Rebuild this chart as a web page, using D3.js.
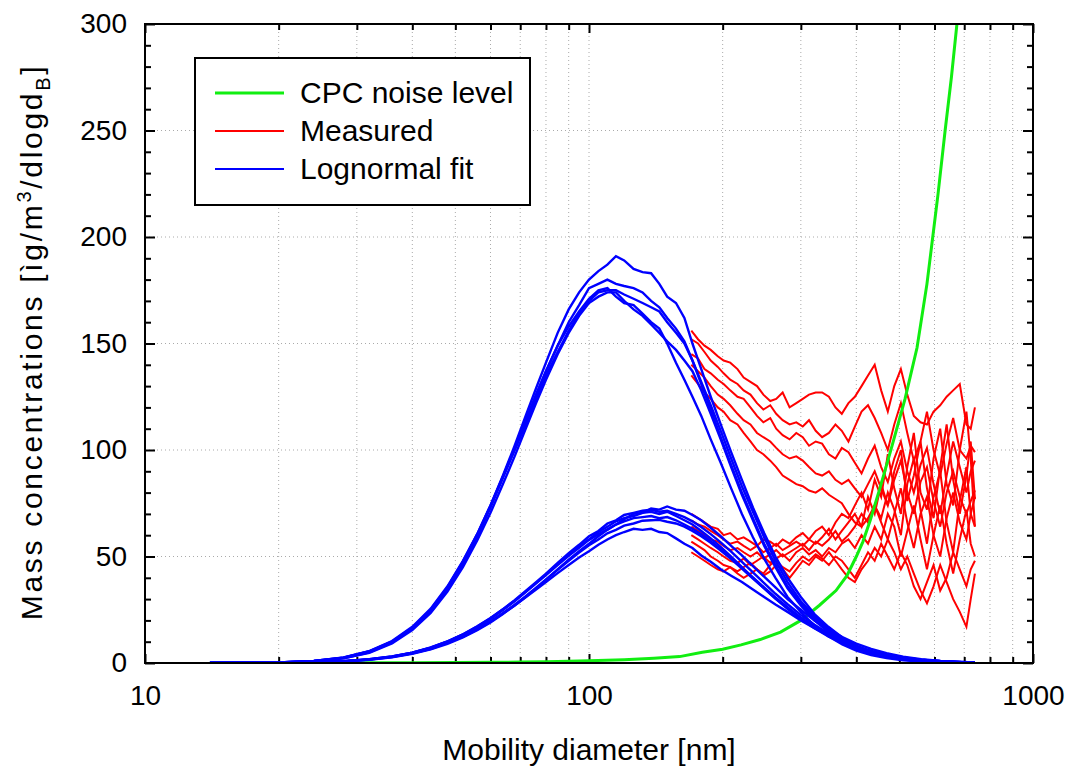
<!DOCTYPE html>
<meta charset="utf-8">
<script src="https://d3js.org/d3.v7.min.js"></script>
<style>
  body { margin: 0; background: #fff; }
  text { font-family: "Liberation Sans", Arial, sans-serif; fill: #000; }
</style>
<body>
<div id="my_dataviz"></div>
<script>

// Ticks
var xMajor = [10, 100, 1000];
var xMinor = [20, 30, 40, 50, 60, 70, 80, 90, 200, 300, 400, 500, 600, 700, 800, 900];
var yMajor = [0, 50, 100, 150, 200, 250, 300];
var yMinor = [10, 20, 30, 40, 60, 70, 80, 90, 110, 120, 130, 140, 160, 170, 180, 190, 210, 220, 230, 240, 260, 270, 280, 290];

// CPC noise level (green)
var cpcDiam  = [14, 20, 30, 40, 50, 60, 70, 80, 90, 100, 120, 140, 160, 180, 200, 220, 243, 270, 300, 330, 360, 381, 400, 414, 430, 452, 480, 515, 548, 577, 611, 634, 655, 674, 690];
var cpcNoise = [0, 0.02, 0.06, 0.12, 0.2, 0.3, 0.45, 0.6, 0.8, 1, 1.5, 2.2, 3, 5, 6.5, 8.5, 11, 14.5, 20, 27, 34, 41, 50, 57, 67, 82, 101, 124, 148, 178, 220, 250, 275, 300, 320];

// Lognormal fit (blue), diameters in nm
var diamFit = [14,17,20,24,28,32,36,40,44,48,52,56,60,64,68,72,76,80,85,90,95,100,105,110,115,120,126,132,138,144,150,157,164,171,179,188,198,209,221,234,248,263,280,300,322,346,372,400,432,468,510,560,620,690,740];
var fitHigh1 = [0,0.1,0.3,1,2.5,5.5,10,16.5,25,35.5,47.5,60.5,74,88,102,116,129,141,155,166,174,180,184,187,191,189,185,183.5,183,178,172,169,162,150,138,125,112,99,86,73,61,50,40,31,23,17,12,8.2,5.4,3.4,2,1.1,0.5,0.2,0.1];
var fitHigh2 = [0,0.1,0.3,1,2.5,5.4,10,16.5,25,35.5,47.5,60,73.5,87.5,101,114,126,137,149,160,168,176,178,180,178,177,176,174,170,167,162,157,151,142,131,119,106,93,80,68,56,46,36,28,21,15,10.5,7.2,4.7,3,1.8,1,0.5,0.2,0.1];
var fitHigh3 = [0,0.1,0.2,0.8,2.2,5,9.5,16,24,34.5,46.5,59,73,87,100,113,126,137,149,158,165,171,175,176,172,169,168,164,160,157,150,141,133,125,116,105,94,82,70,59,49,40,31,24,17.5,12.5,8.7,5.8,3.7,2.3,1.3,0.7,0.3,0.1,0.05];
var fitHigh4 = [0,0.1,0.3,1,2.6,5.6,10.3,17,25.5,36,48,60.5,74,87.5,100,112,124,135,146,156,164,170,174,175,175,173,171,169,167,165,160,155,150,142,132,121,109,96,83,71,59,48,38,29,22,16,11,7.5,5,3.2,1.9,1,0.5,0.2,0.1];
var fitHigh5 = [0,0.1,0.2,0.8,2.2,4.8,9.2,15.5,23.5,33.5,45,57.5,70.5,84,97,110,122,133,145,155,163,169,172,174,174,170,166,163,159,155,151,147,142,137,128,117,105,92,79,67,55,45,35,27,20,14.5,10,6.8,4.4,2.8,1.6,0.9,0.4,0.2,0.1];
var fitLow1 = [0,0,0.1,0.3,0.7,1.5,2.7,4.3,6.4,9,12,15.4,19,23,27,31,35,39,44,48.5,52.5,56,59.5,62.5,65,67.5,70,70.5,72.5,72,73.5,72,71.5,69.5,67,63.5,59.5,55,50.5,45.5,40.5,35.5,30,25,20,15.8,12.2,9.1,6.6,4.6,3,1.8,1,0.5,0.3];
var fitLow2 = [0,0,0.1,0.35,0.8,1.8,3.1,4.8,7.2,10.1,13.4,17.1,21,25.2,29.5,33.8,38,42,47,51.6,55.5,59.5,62,65.5,67,69.5,70.5,71.5,72,71,71.5,70,68.5,66.5,63.8,60.5,56.6,52.3,47.5,42.5,37.5,32.5,27.6,22.6,18,14,10.7,7.9,5.7,3.9,2.6,1.5,0.8,0.4,0.3];
var fitLow3 = [0,0,0.1,0.33,0.8,1.7,3,4.8,7.1,10,13.2,16.8,20.7,24.9,29,33.3,37.5,41.5,46.4,50.8,55,58,61.5,64,66.5,68,69,70.5,71,70,71,69,67,65,62,58.5,54.5,50,45,40,35,30.2,25.4,20.6,16.3,12.5,9.4,6.9,4.9,3.3,2.1,1.2,0.7,0.3,0.2];
var fitLow4 = [0,0,0.1,0.36,0.85,1.8,3.1,4.9,7.3,10.2,13.5,17.2,21.1,25.2,29.3,33.4,37.4,41.3,46,50.3,54.1,57.8,60.5,62.8,65,66.5,68,68.5,69,68,68.5,67,65,63,60.5,57.2,53.5,49.4,44.8,40.2,35.5,30.8,26.2,21.4,17.1,13.3,10.2,7.5,5.4,3.7,2.4,1.4,0.8,0.4,0.25];
var fitLow5 = [0,0,0.1,0.3,0.75,1.6,2.8,4.5,6.7,9.4,12.4,15.9,19.6,23.5,27.4,31.4,35.4,39.2,43.8,48,51.8,55.3,58,60.9,62.5,64.5,65.5,66.8,67,67.2,66.3,65.5,64,62,59.5,56.4,52.8,48.8,44.3,39.6,35,30.3,25.7,21,16.8,13.1,10,7.4,5.3,3.6,2.4,1.4,0.8,0.4,0.26];
var fitLow6 = [0,0,0.1,0.33,0.8,1.6,2.9,4.5,6.7,9.4,12.4,15.8,19.4,23.2,27,30.8,34.5,38,42.2,46,49.5,52.5,55.5,58,60,61.5,63,62.5,63,61.5,61,58.5,56,54,50.5,47.5,44,41,38,34.5,31,27.5,24,20,16.3,13,10,7.5,5.4,3.8,2.5,1.5,0.8,0.45,0.3];

// Measured (red), diameters in nm
var diamMeas = [170,176,182,188,195,201,208,216,223,231,239,247,256,264,273,283,293,303,313,324,335,347,359,371,384,397,411,425,440,455,471,487,504,521,539,558,577,597,618,639,661,684,708,724,740];
var measHigh1 = [156,152,149,147,144,142,141,138,134,132,130,126,123,124,127,120,122,124,126,127,127,125,120,117,122,125,130,135,140,128,118,130,138,126,116,113,112,118,121,125,128,131,112,110,120];
var measHigh2 = [152,150,146,142,139,136,133,131,128,126,122,119,121,117,114,112,113,111,114,109,106,108,112,109,104,111,118,121,115,108,100,112,122,108,95,104,118,100,88,103,115,100,96,102,99];
var measHigh3 = [145,143,138,136,133,131,128,125,124,120,116,113,115,110,107,105,108,106,102,104,103,98,96,101,99,94,89,96,102,92,85,96,104,90,80,93,101,84,70,88,104,92,80,90,95];
var measHigh4 = [140,137,134,130,126,124,121,117,114,112,108,106,104,101,98,96,97,95,92,89,88,90,86,84,86,82,78,84,90,82,74,86,95,80,70,85,92,76,64,80,90,78,70,76,81];
var measHigh5 = [135,131,127,124,120,118,114,112,108,104,100,98,95,92,88,86,84,83,81,80,82,79,77,75,70,66,64,68,74,66,58,70,82,66,54,70,78,60,50,68,80,66,58,70,78];
var measLow1 = [70,68,66,64,63,60,61,58,59,57,55,58,57,55,58,56,59,61,58,62,64,60,66,70,68,74,80,72,86,78,98,82,70,92,108,80,72,96,110,84,74,100,118,96,64];
var measLow2 = [67,65,64,62,60,58,56,57,55,53,55,52,54,56,53,55,57,55,58,56,59,63,58,62,66,70,64,78,70,84,74,90,100,76,88,104,82,68,92,112,86,70,88,104,77];
var measLow3 = [64,62,60,58,57,55,53,54,52,50,52,49,51,53,50,52,54,56,53,57,55,58,62,57,60,64,70,66,74,68,80,72,60,84,96,72,56,78,90,66,52,76,92,70,64];
var measLow4 = [60,58,56,54,52,50,48,47,49,46,48,50,47,49,51,48,52,54,51,53,50,54,52,56,58,54,60,56,64,58,70,64,50,62,74,58,44,60,74,56,42,58,72,56,50];
var measLow5 = [57,55,53,50,48,46,45,43,45,47,44,42,46,48,45,43,47,50,48,51,49,46,50,48,44,40,46,52,48,56,50,44,52,46,36,30,38,46,34,40,52,44,36,44,48];
var measLow6 = [52,50,48,46,44,43,45,42,40,42,44,41,43,46,44,40,44,48,46,50,48,52,48,44,40,38,44,48,54,50,58,52,44,50,42,34,28,36,46,38,30,24,17,30,42];

var legendLabels = ["CPC noise level", "Measured", "Lognormal fit"];
var legendColors = ["#11ee11", "#ff0000", "#0000ff"];

// set the dimensions and margins of the graph
var margin = {top: 24, right: 34, bottom: 103, left: 145},
  width = 1067 - margin.left - margin.right,
  height = 766 - margin.top - margin.bottom;

var root = d3.select("#my_dataviz")
  .append("svg")
    .attr("width", 1067)
    .attr("height", 766);

var svg = root.append("g")
    .attr("transform", "translate(" + margin.left + "," + margin.top + ")");

var x = d3.scaleLog().domain([10, 1000]).range([0, width]);
var y = d3.scaleLinear().domain([0, 300]).range([height, 0]);

// dotted grid
svg.selectAll("vgrid")
  .data(xMinor.concat([100])).enter()
  .append("line")
    .attr("x1", function(d) { return x(d); })
    .attr("x2", function(d) { return x(d); })
    .attr("y1", 0).attr("y2", height)
    .style("stroke", "#aaaaaa")
    .style("stroke-dasharray", "1,3");
svg.selectAll("hgrid")
  .data(yMajor.slice(1, -1)).enter()
  .append("line")
    .attr("y1", function(d) { return y(d); })
    .attr("y2", function(d) { return y(d); })
    .attr("x1", 0).attr("x2", width)
    .style("stroke", "#aaaaaa")
    .style("stroke-dasharray", "1,3");

// axes with inward ticks
function styleAxis(a) {
  a.select(".domain").remove();
  a.selectAll("line").style("stroke", "#000").style("stroke-width", 2);
  a.attr("font-family", "Liberation Sans, Arial, sans-serif").attr("font-size", 28);
  a.selectAll("text").style("fill", "#000");
}
svg.append("g").attr("transform", "translate(0," + height + ")")
  .call(d3.axisBottom(x).tickValues(xMajor).tickSize(-9).tickPadding(22).tickFormat(d3.format("d"))).call(styleAxis);
svg.append("g").attr("transform", "translate(0," + height + ")")
  .call(d3.axisBottom(x).tickValues(xMinor).tickSize(-6).tickFormat("")).call(styleAxis);
svg.append("g")
  .call(d3.axisTop(x).tickValues(xMajor).tickSize(-9).tickFormat("")).call(styleAxis);
svg.append("g")
  .call(d3.axisTop(x).tickValues(xMinor).tickSize(-6).tickFormat("")).call(styleAxis);
svg.append("g")
  .call(d3.axisLeft(y).tickValues(yMajor).tickSize(-10).tickPadding(18)).call(styleAxis);
svg.append("g")
  .call(d3.axisLeft(y).tickValues(yMinor).tickSize(-6).tickFormat("")).call(styleAxis);
svg.append("g").attr("transform", "translate(" + width + ",0)")
  .call(d3.axisRight(y).tickValues(yMajor).tickSize(-10).tickFormat("")).call(styleAxis);
svg.append("g").attr("transform", "translate(" + width + ",0)")
  .call(d3.axisRight(y).tickValues(yMinor).tickSize(-6).tickFormat("")).call(styleAxis);

// clip the curves to the plot area
svg.append("clipPath").attr("id", "plotclip")
  .append("rect").attr("width", width).attr("height", height);

var line = d3.line()
  .x(function(d) { return x(d[0]); })
  .y(function(d) { return y(d[1]); });

var measured = [measHigh1, measHigh2, measHigh3, measHigh4, measHigh5, measLow1, measLow2, measLow3, measLow4, measLow5, measLow6];
var fits = [fitHigh1, fitHigh2, fitHigh3, fitHigh4, fitHigh5, fitLow1, fitLow2, fitLow3, fitLow4, fitLow5, fitLow6];

var curves = svg.append("g").attr("clip-path", "url(#plotclip)");

curves.selectAll("measLine")
  .data(measured).enter()
  .append("path")
    .attr("d", function(s) { return line(d3.zip(diamMeas, s)); })
    .style("fill", "none")
    .style("stroke", legendColors[1])
    .style("stroke-width", 2);

curves.append("path")
    .attr("d", line(d3.zip(cpcDiam, cpcNoise)))
    .style("fill", "none")
    .style("stroke", legendColors[0])
    .style("stroke-width", 3);

curves.selectAll("fitLine")
  .data(fits).enter()
  .append("path")
    .attr("d", function(s) { return line(d3.zip(diamFit, s)); })
    .style("fill", "none")
    .style("stroke", legendColors[2])
    .style("stroke-width", 2.4);

// frame
svg.append("rect")
  .attr("width", width).attr("height", height)
  .style("fill", "none").style("stroke", "#000").style("stroke-width", 2);

// legend
var legend = root.append("g");
legend.append("rect")
  .attr("x", 195).attr("y", 58).attr("width", 335).attr("height", 147)
  .style("fill", "#fff").style("stroke", "#000").style("stroke-width", 2);
legend.selectAll("legLine")
  .data(legendLabels).enter()
  .append("line")
    .attr("x1", 215).attr("x2", 284)
    .attr("y1", function(d, i) { return 93 + i * 38; })
    .attr("y2", function(d, i) { return 93 + i * 38; })
    .style("stroke", function(d, i) { return legendColors[i]; })
    .style("stroke-width", function(d, i) { return i == 0 ? 3 : 2; });
legend.selectAll("legText")
  .data(legendLabels).enter()
  .append("text")
    .attr("x", 300)
    .attr("y", function(d, i) { return 103 + i * 38; })
    .style("font-size", "30px")
    .text(function(d) { return d; });

// axis titles
root.append("text")
  .attr("x", margin.left + width / 2).attr("y", 760)
  .style("text-anchor", "middle").style("font-size", "30px")
  .text("Mobility diameter [nm]");

var yt = root.append("text")
  .attr("transform", "translate(42,342) rotate(-90)")
  .style("text-anchor", "middle").style("font-size", "30px")
  .style("letter-spacing", "2.7px");
yt.append("tspan").text("Mass concentrations [ìg/m");
yt.append("tspan").attr("dy", -11).style("font-size", "20px").text("3");
yt.append("tspan").attr("dy", 11).text("/dlogd");
yt.append("tspan").attr("dy", 8).style("font-size", "20px").text("B");
yt.append("tspan").attr("dy", -8).text("]");

</script>
